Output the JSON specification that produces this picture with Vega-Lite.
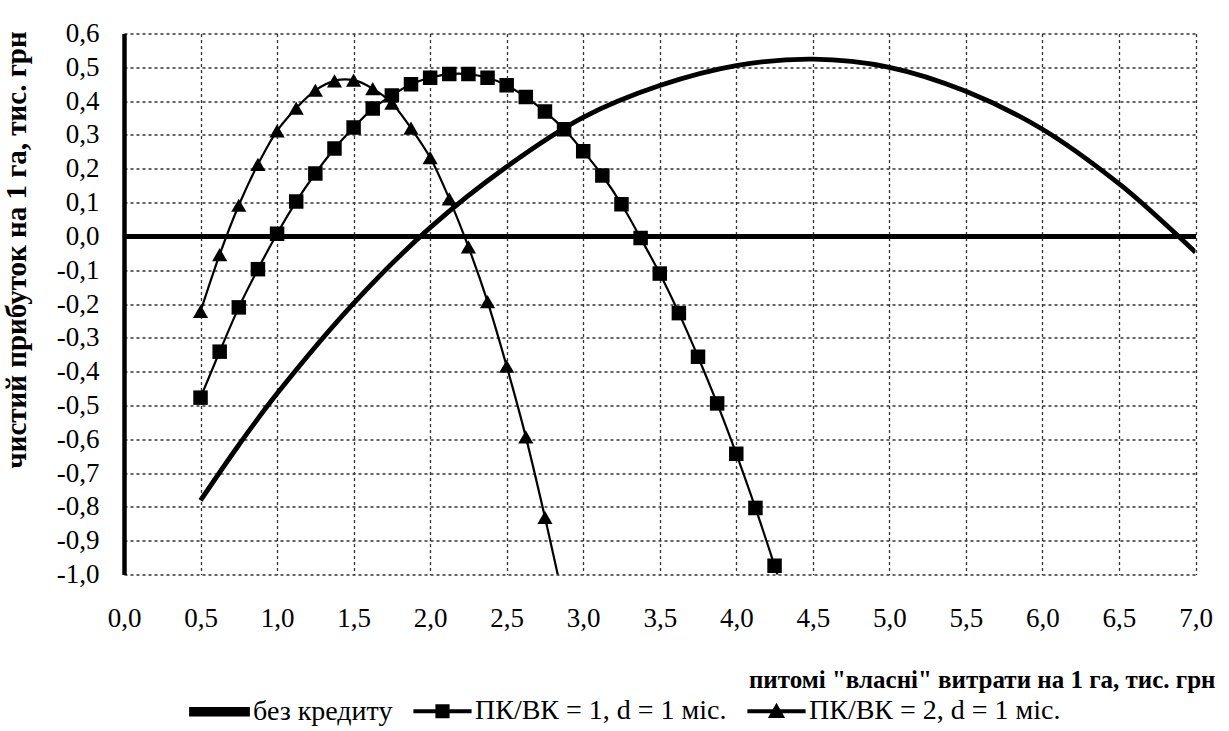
{
  "$schema": "https://vega.github.io/schema/vega-lite/v6.json",
  "width": 1071.5,
  "height": 541,
  "autosize": {"type": "none"},
  "padding": {"left": 124, "top": 33.5, "right": 33.5, "bottom": 156.5},
  "background": "white",
  "config": {
    "view": {"stroke": null},
    "font": "'Liberation Serif', 'DejaVu Serif', serif",
    "axis": {"labelFont": "'Liberation Serif', 'DejaVu Serif', serif", "titleFont": "'Liberation Serif', 'DejaVu Serif', serif"},
    "legend": {"labelFont": "'Liberation Serif', 'DejaVu Serif', serif"}
  },
  "data": {
    "values": [
      {"x": 0.5, "y": -0.781, "s": "без кредиту"},
      {"x": 0.75, "y": -0.617, "s": "без кредиту"},
      {"x": 1.0, "y": -0.465, "s": "без кредиту"},
      {"x": 1.5, "y": -0.198, "s": "без кредиту"},
      {"x": 2.0, "y": 0.026, "s": "без кредиту"},
      {"x": 2.5, "y": 0.206, "s": "без кредиту"},
      {"x": 3.0, "y": 0.352, "s": "без кредиту"},
      {"x": 3.5, "y": 0.446, "s": "без кредиту"},
      {"x": 4.0, "y": 0.505, "s": "без кредиту"},
      {"x": 4.5, "y": 0.524, "s": "без кредиту"},
      {"x": 5.0, "y": 0.5, "s": "без кредиту"},
      {"x": 5.5, "y": 0.429, "s": "без кредиту"},
      {"x": 6.0, "y": 0.317, "s": "без кредиту"},
      {"x": 6.5, "y": 0.156, "s": "без кредиту"},
      {"x": 6.75, "y": 0.058, "s": "без кредиту"},
      {"x": 7.0, "y": -0.047, "s": "без кредиту"},

      {"x": 0.5, "y": -0.477, "s": "ПК/ВК = 1, d = 1 міс."},
      {"x": 0.625, "y": -0.341, "s": "ПК/ВК = 1, d = 1 міс."},
      {"x": 0.75, "y": -0.21, "s": "ПК/ВК = 1, d = 1 міс."},
      {"x": 0.875, "y": -0.097, "s": "ПК/ВК = 1, d = 1 міс."},
      {"x": 1.0, "y": 0.008, "s": "ПК/ВК = 1, d = 1 міс."},
      {"x": 1.125, "y": 0.103, "s": "ПК/ВК = 1, d = 1 міс."},
      {"x": 1.25, "y": 0.186, "s": "ПК/ВК = 1, d = 1 міс."},
      {"x": 1.375, "y": 0.26, "s": "ПК/ВК = 1, d = 1 міс."},
      {"x": 1.5, "y": 0.322, "s": "ПК/ВК = 1, d = 1 міс."},
      {"x": 1.625, "y": 0.378, "s": "ПК/ВК = 1, d = 1 міс."},
      {"x": 1.75, "y": 0.417, "s": "ПК/ВК = 1, d = 1 міс."},
      {"x": 1.875, "y": 0.45, "s": "ПК/ВК = 1, d = 1 міс."},
      {"x": 2.0, "y": 0.469, "s": "ПК/ВК = 1, d = 1 міс."},
      {"x": 2.125, "y": 0.48, "s": "ПК/ВК = 1, d = 1 міс."},
      {"x": 2.25, "y": 0.48, "s": "ПК/ВК = 1, d = 1 міс."},
      {"x": 2.375, "y": 0.469, "s": "ПК/ВК = 1, d = 1 міс."},
      {"x": 2.5, "y": 0.447, "s": "ПК/ВК = 1, d = 1 міс."},
      {"x": 2.625, "y": 0.412, "s": "ПК/ВК = 1, d = 1 міс."},
      {"x": 2.75, "y": 0.369, "s": "ПК/ВК = 1, d = 1 міс."},
      {"x": 2.875, "y": 0.317, "s": "ПК/ВК = 1, d = 1 міс."},
      {"x": 3.0, "y": 0.252, "s": "ПК/ВК = 1, d = 1 міс."},
      {"x": 3.125, "y": 0.18, "s": "ПК/ВК = 1, d = 1 міс."},
      {"x": 3.25, "y": 0.095, "s": "ПК/ВК = 1, d = 1 міс."},
      {"x": 3.375, "y": -0.005, "s": "ПК/ВК = 1, d = 1 міс."},
      {"x": 3.5, "y": -0.11, "s": "ПК/ВК = 1, d = 1 міс."},
      {"x": 3.625, "y": -0.227, "s": "ПК/ВК = 1, d = 1 міс."},
      {"x": 3.75, "y": -0.356, "s": "ПК/ВК = 1, d = 1 міс."},
      {"x": 3.875, "y": -0.494, "s": "ПК/ВК = 1, d = 1 міс."},
      {"x": 4.0, "y": -0.643, "s": "ПК/ВК = 1, d = 1 міс."},
      {"x": 4.125, "y": -0.803, "s": "ПК/ВК = 1, d = 1 міс."},
      {"x": 4.25, "y": -0.974, "s": "ПК/ВК = 1, d = 1 міс."},
      {"x": 4.375, "y": -1.157, "s": "ПК/ВК = 1, d = 1 міс."},

      {"x": 0.5, "y": -0.222, "s": "ПК/ВК = 2, d = 1 міс."},
      {"x": 0.625, "y": -0.054, "s": "ПК/ВК = 2, d = 1 міс."},
      {"x": 0.75, "y": 0.092, "s": "ПК/ВК = 2, d = 1 міс."},
      {"x": 0.875, "y": 0.213, "s": "ПК/ВК = 2, d = 1 міс."},
      {"x": 1.0, "y": 0.312, "s": "ПК/ВК = 2, d = 1 міс."},
      {"x": 1.125, "y": 0.379, "s": "ПК/ВК = 2, d = 1 міс."},
      {"x": 1.25, "y": 0.432, "s": "ПК/ВК = 2, d = 1 міс."},
      {"x": 1.375, "y": 0.46, "s": "ПК/ВК = 2, d = 1 міс."},
      {"x": 1.5, "y": 0.462, "s": "ПК/ВК = 2, d = 1 міс."},
      {"x": 1.625, "y": 0.437, "s": "ПК/ВК = 2, d = 1 міс."},
      {"x": 1.75, "y": 0.394, "s": "ПК/ВК = 2, d = 1 міс."},
      {"x": 1.875, "y": 0.32, "s": "ПК/ВК = 2, d = 1 міс."},
      {"x": 2.0, "y": 0.233, "s": "ПК/ВК = 2, d = 1 міс."},
      {"x": 2.125, "y": 0.111, "s": "ПК/ВК = 2, d = 1 міс."},
      {"x": 2.25, "y": -0.031, "s": "ПК/ВК = 2, d = 1 міс."},
      {"x": 2.375, "y": -0.193, "s": "ПК/ВК = 2, d = 1 міс."},
      {"x": 2.5, "y": -0.384, "s": "ПК/ВК = 2, d = 1 міс."},
      {"x": 2.625, "y": -0.593, "s": "ПК/ВК = 2, d = 1 міс."},
      {"x": 2.75, "y": -0.831, "s": "ПК/ВК = 2, d = 1 міс."},
      {"x": 2.875, "y": -1.085, "s": "ПК/ВК = 2, d = 1 міс."}
    ]
  },
  "encoding": {
    "x": {
      "field": "x", "type": "quantitative",
      "scale": {"domain": [0, 7], "nice": false, "zero": false},
      "axis": {
        "values": [0, 0.5, 1, 1.5, 2, 2.5, 3, 3.5, 4, 4.5, 5, 5.5, 6, 6.5, 7],
        "labelExpr": "replace(format(datum.value, '.1f'), '.', ',')",
        "labelFontSize": 27, "labelColor": "black",
        "labelPadding": 31, "labelFlush": false, "labelOverlap": false, "labelBound": false,
        "ticks": false, "domain": false,
        "grid": true, "gridColor": "#333333", "gridDash": [3, 3], "gridWidth": 1.3,
        "title": "питомі \"власні\" витрати на 1 га, тис. грн",
        "titleFontSize": 25, "titleFontWeight": "bold", "titleColor": "black",
        "titleX": 1091, "titleY": 113, "titleAlign": "right", "titleBaseline": "alphabetic"
      }
    },
    "y": {
      "field": "y", "type": "quantitative",
      "scale": {"domain": [-1, 0.6], "nice": false, "zero": false},
      "axis": {
        "values": [-1, -0.9, -0.8, -0.7, -0.6, -0.5, -0.4, -0.3, -0.2, -0.1, 0, 0.1, 0.2, 0.3, 0.4, 0.5, 0.6],
        "labelExpr": "replace(replace(format(datum.value, '.1f'), '.', ','), '\u2212', '-')",
        "labelFontSize": 27, "labelColor": "black",
        "labelPadding": 25, "labelOverlap": false, "labelBound": false, "labelFlush": false,
        "ticks": false,
        "domain": true, "domainColor": "black", "domainWidth": 4.5,
        "grid": true, "gridColor": "#333333", "gridDash": [3, 3], "gridWidth": 1.3,
        "title": "чистий прибуток на 1 га, тис. грн",
        "titleFontSize": 29, "titleFontWeight": "bold", "titleColor": "black",
        "titleX": -108, "titleY": 216, "titleAngle": 270, "titleAlign": "center", "titleBaseline": "middle"
      }
    }
  },
  "layer": [
    {
      "mark": {"type": "line", "interpolate": "catmull-rom", "clip": true},
      "encoding": {
        "color": {
          "field": "s", "type": "nominal",
          "scale": {"domain": ["без кредиту", "ПК/ВК = 1, d = 1 міс.", "ПК/ВК = 2, d = 1 міс."], "range": ["black", "black", "black"]},
          "legend": {
            "orient": "none", "legendX": 65, "legendY": 647.5, "direction": "horizontal",
            "title": null, "padding": 0,
            "labelFontSize": 28, "labelColor": "black", "labelLimit": 500,
            "labelOffset": 3, "columnPadding": 17,
            "symbolSize": 3136, "symbolStrokeWidth": 0, "symbolFillColor": "black",
            "encode": {
              "symbols": {
                "update": {
                  "shape": {"signal": "datum.value === 'без кредиту' ? 'M-1,-0.085L1,-0.085L1,0.085L-1,0.085Z' : (datum.value === 'ПК/ВК = 1, d = 1 міс.' ? 'M-1,-0.036L1,-0.036L1,0.036L-1,0.036ZM-0.214,-0.214L0.214,-0.214L0.214,0.214L-0.214,0.214Z' : 'M-1,-0.036L1,-0.036L1,0.036L-1,0.036ZM0,-0.22L0.24,0.2L-0.24,0.2Z')"},
                  "fill": {"value": "black"},
                  "strokeWidth": {"value": 0},
                  "opacity": {"value": 1}
                }
              }
            }
          }
        },
        "strokeWidth": {
          "field": "s", "type": "nominal",
          "scale": {"type": "ordinal", "domain": ["без кредиту", "ПК/ВК = 1, d = 1 міс.", "ПК/ВК = 2, d = 1 міс."], "range": [4.8, 2.2, 2.2]},
          "legend": null
        }
      }
    },
    {
      "transform": [{"filter": "datum.s === 'ПК/ВК = 1, d = 1 міс.'"}],
      "mark": {"type": "point", "shape": "square", "filled": true, "color": "black", "size": 210, "opacity": 1, "clip": true}
    },
    {
      "transform": [{"filter": "datum.s === 'ПК/ВК = 2, d = 1 міс.'"}],
      "mark": {"type": "point", "shape": "triangle-up", "filled": true, "color": "black", "size": 230, "opacity": 1, "clip": true}
    },
    {
      "mark": {"type": "rule", "color": "black", "strokeWidth": 4.5},
      "encoding": {
        "x": {"datum": 0},
        "x2": {"datum": 7},
        "y": {"datum": 0}
      }
    }
  ]
}
